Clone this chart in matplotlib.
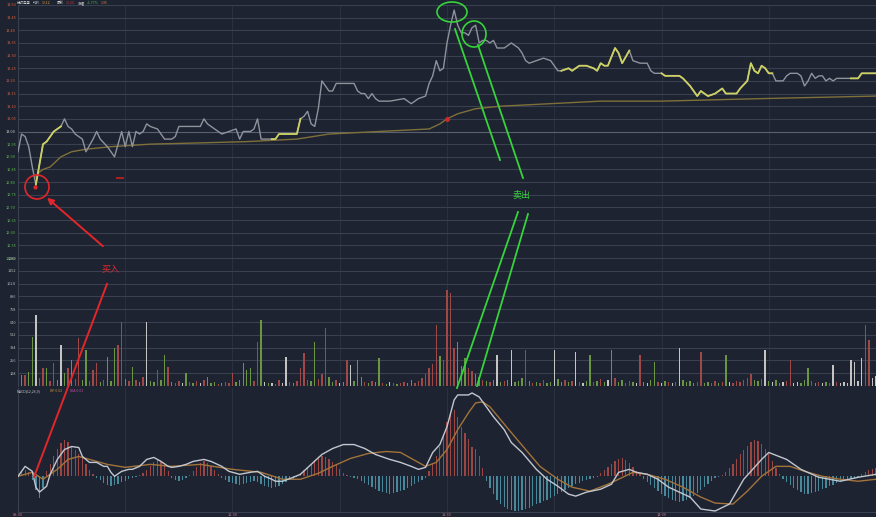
import numpy as np
import matplotlib.pyplot as plt
from matplotlib.patches import Ellipse

plt.rcParams['font.family'] = ['Noto Sans CJK SC', 'DejaVu Sans']

# ---- intraday data (minute 0 = 09:30, 240 = 15:00) ----
prev_close = 13.00

price_min = [0, 1, 2, 3, 4, 5, 6, 7, 8, 9, 10, 11, 12, 13, 14, 15, 16, 18, 19, 21, 22, 23, 25, 27, 28,
             29, 30, 31, 32, 33, 34, 35, 36, 37, 39, 40, 41, 43, 44, 45, 48, 51, 52, 53, 55, 57, 59, 61,
             62, 63, 65, 66, 67, 68, 70, 71, 72, 73, 75, 78, 79, 80, 81, 82, 83, 84, 85, 87, 88, 89, 92,
             94, 95, 96, 97, 98, 99, 100, 101, 104, 108, 110, 112, 114, 115, 116, 117, 118, 119, 120,
             121, 122, 123, 124, 125, 126, 127, 128, 129, 130, 131, 132, 133, 134, 136, 138, 139, 140,
             141, 142, 143, 145, 147, 149, 151, 152, 154, 155, 157, 158, 159, 161, 162, 163, 164, 165,
             167, 168, 169, 171, 172, 174, 176, 177, 178, 180, 181, 182, 184, 185, 186, 188, 190, 191,
             193, 195, 197, 198, 199, 201, 202, 204, 205, 206, 207, 208, 209, 210, 211, 212, 214, 215,
             216, 218, 219, 220, 221, 222, 223, 224, 225, 226, 227, 228, 229, 233, 234, 235, 236, 237,
             239, 240]
price_val = [12.92, 12.99, 12.98, 12.94, 12.86, 12.79, 12.87, 12.95, 12.96, 12.98, 13.00, 13.01, 13.02,
             13.05, 13.02, 13.01, 12.99, 12.97, 12.92, 12.97, 13.00, 12.97, 12.94, 12.90, 12.95, 13.00,
             12.94, 13.00, 12.94, 13.00, 12.99, 13.00, 13.03, 13.02, 13.01, 12.99, 12.97, 12.97, 12.98,
             13.02, 13.02, 13.02, 13.05, 13.03, 13.01, 12.99, 13.00, 13.01, 12.97, 13.00, 13.00, 13.01,
             13.05, 12.97, 12.97, 12.97, 12.97, 12.99, 12.99, 12.99, 13.05, 13.06, 13.08, 13.03, 13.02,
             13.09, 13.20, 13.16, 13.16, 13.19, 13.19, 13.19, 13.16, 13.15, 13.15, 13.13, 13.15, 13.13,
             13.12, 13.12, 13.13, 13.11, 13.13, 13.14, 13.19, 13.22, 13.28, 13.24, 13.25, 13.35, 13.42,
             13.48, 13.42, 13.39, 13.39, 13.38, 13.41, 13.42, 13.35, 13.36, 13.36, 13.35, 13.36, 13.33,
             13.33, 13.35, 13.34, 13.33, 13.31, 13.28, 13.27, 13.28, 13.29, 13.28, 13.24, 13.24, 13.25,
             13.24, 13.26, 13.26, 13.26, 13.25, 13.24, 13.27, 13.26, 13.26, 13.33, 13.31, 13.27, 13.32,
             13.28, 13.27, 13.27, 13.24, 13.23, 13.23, 13.22, 13.22, 13.22, 13.22, 13.21, 13.18, 13.14,
             13.16, 13.14, 13.15, 13.17, 13.15, 13.15, 13.15, 13.17, 13.20, 13.27, 13.24, 13.23, 13.26,
             13.25, 13.23, 13.23, 13.20, 13.20, 13.22, 13.23, 13.23, 13.22, 13.18, 13.20, 13.23, 13.21,
             13.22, 13.22, 13.20, 13.21, 13.20, 13.21, 13.21, 13.21, 13.21, 13.23, 13.23, 13.23, 13.23]
# stretches drawn highlighted (yellow) in the original software
hi_spans = [(5, 12), (71, 79), (152, 171), (180, 211), (233, 240)]

avg_min = [5, 6, 7, 9, 12, 15, 19, 26, 37, 51, 64, 78, 87, 101, 115, 118, 120, 123, 128, 135, 149, 163,
           180, 208, 240]
avg_val = [12.82, 12.84, 12.85, 12.86, 12.90, 12.92, 12.93, 12.94, 12.95, 12.955, 12.96, 12.97, 12.99,
           13.00, 13.01, 13.03, 13.05, 13.07, 13.09, 13.10, 13.11, 13.12, 13.12, 13.13, 13.14]

# volume per minute (lots) and direction of the minute: 1 up, -1 down, 0 flat
vol_val = [60, 110, 110, 140, 490, 710, 80, 180, 180, 50,
           230, 60, 410, 130, 180, 260, 70, 480, 60, 360,
           50, 160, 230, 40, 60, 290, 50, 380, 410, 640,
           70, 50, 190, 60, 40, 90, 640, 50, 40, 160,
           60, 310, 190, 40, 30, 50, 30, 130, 40, 30,
           50, 30, 60, 90, 30, 40, 20, 30, 40, 30,
           130, 40, 60, 230, 160, 180, 50, 440, 660, 40,
           30, 30, 20, 60, 30, 290, 40, 30, 50, 180,
           330, 60, 50, 440, 70, 120, 580, 90, 40, 60,
           30, 40, 260, 210, 50, 260, 90, 40, 30, 50,
           40, 280, 30, 20, 40, 30, 20, 30, 40, 30,
           60, 30, 50, 80, 120, 180, 220, 610, 300, 260,
           960, 930, 380, 440, 200, 280, 180, 150, 120, 90,
           60, 50, 40, 60, 310, 40, 50, 60, 360, 40,
           50, 80, 360, 50, 30, 40, 30, 60, 30, 40,
           360, 70, 40, 60, 40, 50, 340, 40, 30, 50,
           310, 40, 50, 70, 40, 60, 360, 80, 40, 60,
           30, 50, 40, 30, 310, 40, 30, 60, 240, 40,
           30, 50, 40, 30, 40, 380, 60, 40, 50, 30,
           40, 340, 30, 40, 30, 50, 30, 40, 310, 40,
           30, 50, 40, 60, 80, 120, 60, 50, 70, 360,
           50, 40, 60, 30, 40, 50, 260, 30, 40, 30,
           60, 180, 50, 30, 40, 30, 40, 30, 210, 40,
           30, 40, 30, 260, 240, 50, 280, 610, 460, 80,
           100]
vol_dir = [1, -1, 1, -1, -1, 0, 1, 1, -1, 1,
           1, -1, 0, -1, 1, -1, 1, 1, -1, -1,
           1, 1, 1, -1, 1, -1, -1, -1, 1, 1,
           -1, 1, -1, 1, -1, 1, 0, -1, -1, 1,
           -1, -1, 1, -1, 1, 1, 0, -1, 1, -1,
           1, 0, 1, -1, -1, -1, 1, -1, 1, 1,
           1, -1, -1, -1, -1, -1, 1, 1, -1, 0,
           -1, 0, 1, 1, 0, 0, 1, -1, 1, 1,
           1, 1, -1, -1, 1, 1, 1, -1, -1, 1,
           0, -1, 1, 0, -1, -1, -1, 1, -1, 1,
           -1, -1, 1, -1, 0, 1, -1, 1, 1, -1,
           -1, 1, 1, 1, 1, 1, 1, 1, -1, 1,
           1, 1, 1, -1, -1, -1, 1, 1, -1, -1,
           1, -1, 1, -1, 0, -1, 1, -1, 0, -1,
           -1, -1, 1, -1, 1, -1, 1, 1, -1, -1,
           0, -1, -1, 1, -1, 1, 0, 1, 0, -1,
           -1, 1, -1, 1, -1, 0, -1, 1, -1, -1,
           1, 1, -1, 0, 1, -1, 0, -1, -1, 1,
           0, -1, 1, 0, 1, 0, -1, -1, -1, -1,
           1, 1, -1, -1, 1, 1, -1, 1, -1, 0,
           1, 1, 1, 1, 1, 1, -1, -1, 1, 0,
           -1, 0, -1, -1, 0, 1, 1, 0, 0, -1,
           -1, -1, 1, -1, 1, 0, -1, 1, 0, 1,
           0, 0, 0, 0, 0, 0, 0, 1, 1, 0,
           0]

# MACD (values in 0.001)
dif_min = [0, 2, 4, 5, 6, 8, 9, 11, 13, 15, 17, 18, 20, 22, 24, 25, 26, 27, 29, 31, 32, 34, 36, 38, 40,
           42, 43, 45, 47, 49, 52, 54, 57, 59, 60, 62, 65, 67, 69, 71, 72, 74, 77, 79, 82, 85, 88, 91,
           94, 97, 100, 104, 107, 110, 112, 114, 116, 118, 120, 122, 123, 126, 127, 129, 131, 133, 136,
           138, 141, 145, 148, 151, 154, 156, 159, 163, 166, 168, 171, 173, 176, 179, 182, 185, 188,
           191, 195, 199, 203, 208, 210, 215, 219, 224, 230, 235, 240]
dif_val = [0, 10, 5, -11, -16, -10, 2, 17, 27, 30, 29, 20, 14, 14, 10, 10, 4, 0, 5, 7, 7, 10, 17, 19, 15,
           10, 9, 10, 12, 15, 17, 15, 10, 5, 4, 2, 4, 5, 0, -3, -5, -5, -1, 2, 12, 22, 28, 32,
           32, 28, 22, 17, 14, 10, 7, 9, 24, 32, 50, 77, 82, 82, 84, 80, 70, 60, 47,
           34, 24, 7, -3, -10, -18, -20, -16, -13, -8, 4, 7, 4, 2, -3, -11, -16, -21,
           -33, -35, -28, -3, 17, 24, 17, 7, -1, -5, -1, 2]
dea_min = [0, 4, 7, 11, 14, 17, 20, 25, 30, 37, 43, 51, 60, 68, 74, 79, 84, 88, 93, 98, 103, 107, 110,
           114, 117, 120, 123, 126, 128, 130, 132, 135, 138, 142, 146, 151, 155, 160, 165, 168, 172, 176,
           181, 186, 191, 195, 200, 204, 208, 212, 216, 220, 225, 230, 235, 240]
dea_val = [0, 4, -3, 7, 17, 20, 17, 12, 9, 12, 10, 12, 7, 4, -3, -3, 3, 10, 18, 23, 25, 24, 18,
           10, 14, 27, 47, 64, 74, 75, 70, 57, 44, 27, 10, -3, -11, -15, -8, -3, 4, 2,
           -3, -11, -21, -27, -28, -15, 0, 10, 10, 5, 0, -3, -5, -3]
macd_hist = [3, 5, 6, 4, -4, -14, -22, -12, 5, 12, 20, 28, 34, 37, 35, 30, 26, 22, 18, 12, 6, 2,
             -2, -4, -7, -9, -10, -9, -8, -6, -5, -3, -2, -1, 1, 3, 6, 10, 14, 16, 14, 10, 5,
             -2, -4, -5, -4, -2, 1, 5, 9, 13, 15, 13, 10, 6, 2,
             -2, -4, -6, -7, -8, -9, -8, -7, -6, -5, -6, -8, -10, -11, -12, -11, -10, -8, -6, -4, -3, -1,
             3, 6, 9, 12, 16, 18, 20, 19, 17, 14, 11, 7, 3,
             1, -1, -2, -3, -5, -7, -9, -11, -13, -15, -16, -17, -18, -17, -16, -15, -14, -12, -10, -8,
             -6, -4, -2,
             5, 12, 20, 30, 42, 55, 64, 67, 60, 50, 44, 38, 30, 28, 20, 8,
             -5, -12, -18, -24, -28, -31, -33, -34, -35, -35, -34, -33, -32, -30, -28, -27, -25, -24,
             -22, -20,
             -18, -16, -14, -12, -10, -8, -7, -5, -4, -3, -2, -1,
             3, 6, 9, 12, 15, 17, 18, 16, 13, 9, 5, 2,
             -3, -6, -9, -12, -15, -18, -20, -22, -24, -25, -26, -25, -24, -22, -20, -17, -14, -11, -8,
             -5, -2,
             -1, 1, 4, 8, 12, 17, 22, 27, 31, 35, 37, 36, 33, 28, 22, 15, 8, 2,
             -3, -6, -9, -12, -14, -16, -18, -18, -17, -16, -15, -13, -12, -10, -9, -7, -6, -5, -4, -3,
             -2, -1,
             2, 4, 6, 7, 8]

time_ticks = [0, 60, 120, 180]
time_labels = ['09:30', '10:30', '11:30', '14:00']

# ---- colours ----
BG = '#1d2331'
GRID = '#394151'
VGRID = '#293040'
RED = '#e3262a'
GREEN = '#36d43a'

W, H = 876, 517
fig = plt.figure(figsize=(W / 100, H / 100), dpi=100, facecolor=BG)


def px_axes(top, bottom):
    return fig.add_axes([18 / W, 1 - bottom / H, 1 - 18 / W, (bottom - top) / H], facecolor=BG)


ax_p = px_axes(5, 258)
ax_v = px_axes(258, 386)
ax_m = px_axes(388, 512)

for ax in (ax_p, ax_v, ax_m):
    ax.set_xlim(0, 240)
    for s in ax.spines.values():
        s.set_visible(False)
    ax.spines['left'].set_visible(True)
    ax.spines['left'].set_color(GRID)
    ax.tick_params(length=0, pad=1.5)
    for m in range(30, 240, 30):
        ax.axvline(m, color=VGRID, lw=0.8, zorder=0)
    ax.set_xticks([])

# price panel
p_ticks = np.round(np.arange(12.50, 13.501, 0.05), 2)
ax_p.set_ylim(12.50, 13.50)
ax_p.set_yticks(p_ticks)
ax_p.set_yticklabels(['%.2f' % t for t in p_ticks], fontsize=2.8)
for lab, t in zip(ax_p.get_yticklabels(), p_ticks):
    lab.set_color('#d8603c' if t > prev_close + 1e-6 else ('#5cb84a' if t < prev_close - 1e-6 else '#d0d0d0'))
for t in p_ticks:
    ax_p.axhline(t, color=GRID if abs(t - prev_close) > 1e-6 else '#59616f', lw=0.8, zorder=0)

pm = np.array(price_min)
pv = np.array(price_val)
ax_p.plot(avg_min, avg_val, color='#7f703a', lw=1.0, zorder=2)
ax_p.plot(pm, pv, color='#8f939c', lw=1.0, zorder=3)
for a, b in hi_spans:
    sel = (pm >= a) & (pm <= b)
    ax_p.plot(pm[sel], pv[sel], color='#cdd161', lw=1.3, zorder=4)
ax_p.plot(120, avg_val[avg_min.index(120)], 'o', color='#d02828', ms=2.5, zorder=5)

# volume panel
v_ticks = np.arange(0, 1281, 128)
ax_v.set_ylim(0, 1280)
ax_v.set_yticks(v_ticks[1:])
ax_v.set_yticklabels([str(t) for t in v_ticks[1:]], fontsize=2.8, color='#b8b8b8')
for t in v_ticks[1:]:
    ax_v.axhline(t, color=GRID, lw=0.8, zorder=0)
dir_col = {1: '#a04846', -1: '#6a9644', 0: '#c4c4c4'}
vx = np.arange(len(vol_val))
ax_v.bar(vx, vol_val, width=0.38, color=[dir_col[d] for d in vol_dir], zorder=2)
ax_v.axhline(0, color=GRID, lw=0.8)

# MACD panel
hist = np.array(macd_hist) / 1000
hx = np.arange(len(hist))
ax_m.set_ylim(-0.036, 0.089)
ax_m.set_yticks([])
ax_m.bar(hx, hist, width=0.35, color=np.where(hist >= 0, '#9c4644', '#47889a'), zorder=2)
ax_m.plot(dea_min, np.array(dea_val) / 1000, color='#a3733a', lw=1.0, zorder=3)
ax_m.plot(dif_min, np.array(dif_val) / 1000, color='#c2c7cf', lw=1.0, zorder=4)
ax_m.spines['bottom'].set_visible(True)
ax_m.spines['bottom'].set_color(GRID)
ax_m.set_xticks(time_ticks)
ax_m.set_xticklabels(time_labels, fontsize=2.8, color='#d87c8c')
ax_m.tick_params(axis='x', pad=0.5)

# ---- overlay for headers and hand-drawn annotations (pixel space) ----
ov = fig.add_axes([0, 0, 1, 1], zorder=10)
ov.set_xlim(0, W)
ov.set_ylim(H, 0)
ov.axis('off')
ov.patch.set_alpha(0)

hdr = [(17, '分时走势', '#cfcfcf'), (33, '均价', '#cfcfcf'), (42, '13.12', '#e0a040'),
       (57, '最新', '#cfcfcf'), (66, '13.23', '#c84040'), (78, '涨幅', '#cfcfcf'),
       (87, '+1.77%', '#5cb84a'), (101, '1.35', '#e08a40')]
for x, s, c in hdr:
    ov.text(x, 3, s, fontsize=2.5, color=c, va='center')
for x, s, c in [(17, 'MACD(12,26,9)', '#c8c8c8'), (50, 'DIF:0.02', '#c09040'),
                (70, 'DEA:0.01', '#c050a0')]:
    ov.text(x, 391, s, fontsize=2.5, color=c, va='center')

# buy annotation
ov.add_patch(Ellipse((37, 187), 24, 24, fill=False, ec=RED, lw=1.2))
ov.plot(35, 187, 'o', color=RED, ms=2)
ov.plot([117, 123], [178, 178], color='#b02020', lw=1.4)
ov.annotate('', xy=(45, 196), xytext=(105, 248),
            arrowprops=dict(arrowstyle='-|>', color=RED, lw=1.4, mutation_scale=9))
ov.plot([34, 107], [477, 284], color=RED, lw=1.4)
ov.text(111, 270, '买入', fontsize=6.5, color=RED, ha='center', va='center')

# sell annotation
ov.add_patch(Ellipse((452, 12), 30, 20, fill=False, ec=GREEN, lw=1.2, clip_on=False))
ov.add_patch(Ellipse((474, 34), 24, 26, fill=False, ec=GREEN, lw=1.2))
ov.plot([455, 500], [29, 160], color=GREEN, lw=1.3)
ov.plot([478, 523], [45, 178], color=GREEN, lw=1.3)
ov.plot([457, 518], [388, 212], color=GREEN, lw=1.3)
ov.plot([477, 528], [386, 214], color=GREEN, lw=1.3)
ov.text(521, 195, '卖出', fontsize=6.5, color=GREEN, ha='center', va='center')

fig.savefig('out.png', dpi=100, facecolor=BG)
